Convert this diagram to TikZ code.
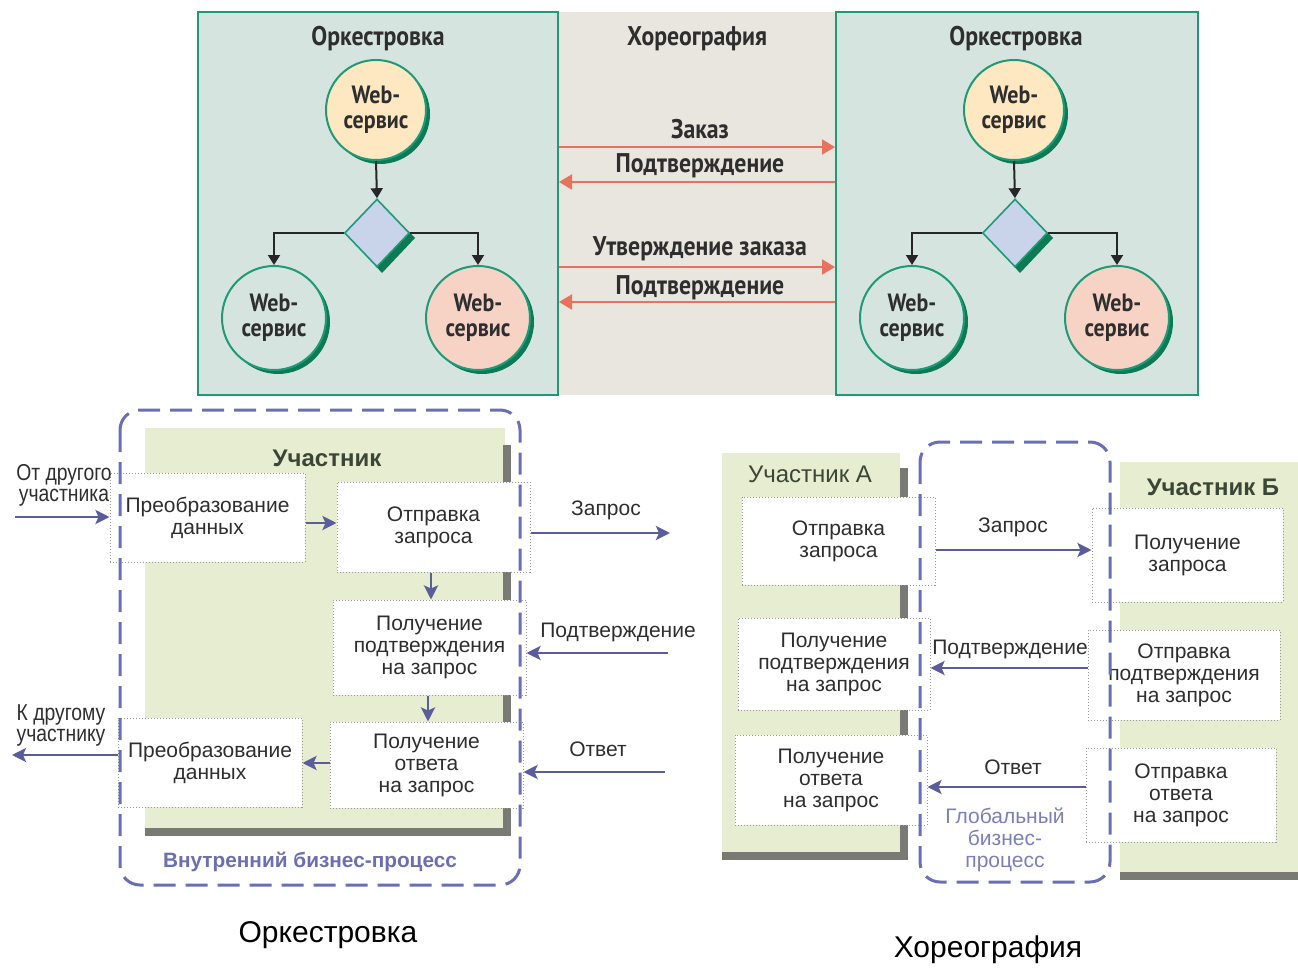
\documentclass[tikz,border=0pt]{standalone}
\usepackage{fontspec}
\setmainfont{Liberation Sans}
\newfontfamily\topfont[FakeStretch=0.88]{PT Sans}
\newfontfamily\narrowfont[FakeStretch=0.84]{Liberation Sans}
\usetikzlibrary{shapes.geometric,arrows.meta,calc}
\definecolor{panelc}{HTML}{D6E4DF}
\definecolor{midc}{HTML}{E9E5DF}
\definecolor{tealc}{HTML}{1E9A76}
\definecolor{darkteal}{HTML}{0B7A55}
\definecolor{yelc}{HTML}{FDE8C2}
\definecolor{pinkc}{HTML}{F6D3C5}
\definecolor{diac}{HTML}{C9D3EA}
\definecolor{redc}{HTML}{E8725E}
\definecolor{greenp}{HTML}{E6EDD0}
\definecolor{shadc}{HTML}{7A7A74}
\definecolor{dashc}{HTML}{6B6EB3}
\definecolor{arrc}{HTML}{5A5C9C}
\definecolor{txtc}{HTML}{2E2E2E}
\definecolor{partc}{HTML}{3B4636}
\definecolor{globc}{HTML}{7B7EBB}
\begin{document}
\begin{tikzpicture}[x=0.5pt,y=-0.5pt,
  panel/.style={draw=tealc, line width=1pt, fill=panelc, minimum height=191.5pt, inner sep=0},
  ttl/.style={font=\topfont\bfseries\fontsize{13.5}{14}\selectfont, text=txtc, inner sep=0},
  ws/.style={circle, draw=tealc, line width=1pt, inner sep=0, align=center, text=txtc,
     font=\topfont\bfseries\fontsize{12.5}{12.5}\selectfont},
  dia/.style={diamond, draw=tealc, line width=0.8pt, fill=diac, minimum width=32.5pt, minimum height=34pt, inner sep=0},
  tarrow/.style={-{Triangle[length=5pt,width=6pt]}, line width=1pt, draw=black!85},
  rarrow/.style={-{Triangle[length=6.5pt,width=7.5pt]}, line width=1pt, draw=redc},
  barrow/.style={-{Stealth[length=7pt,width=7pt,inset=1.5pt]}, line width=1.4pt, draw=arrc},
  box/.style={draw=black!40, line width=0.5pt, densely dotted, fill=white, inner sep=0, align=center,
     text=txtc, font=\fontsize{10.5}{11}\selectfont},
  dashbox/.style={draw=dashc, line width=1.5pt, dash pattern=on 11pt off 5pt, rounded corners=10pt},
  lbl/.style={text=txtc, font=\fontsize{10.5}{11}\selectfont, inner sep=0, align=center},
  side/.style={text=txtc, font=\narrowfont\fontsize{11.5}{10.5}\selectfont, inner sep=0, align=center}
]
\useasboundingbox (0,0) rectangle (1298,969);

% ---------------- top part ----------------
\fill[midc] (558,12) rectangle (836,395);
\node[panel, minimum width=180pt] (Lp) at (378,203.5) {};
\node[panel, minimum width=181pt] (Rp) at (1017,203.5) {};

\node[ttl] (t1) at (378,39) {Оркестровка};
\node[ttl] (t2) at (697,39) {Хореография};
\node[ttl] (t3) at (1016,39) {Оркестровка};

% left cluster
\fill[darkteal] (380,114) circle (25pt);
\node[ws, fill=yelc, minimum size=50pt] (c1) at (376,110) {Web-\\сервис};
\fill[darkteal] (382,205) -- (415,238) -- (382,273) -- (350,238) -- cycle;
\node[dia] (d1) at (377,233) {};
\fill[darkteal] (278,322) circle (26pt);
\node[ws, fill=panelc, minimum size=52pt] (c2) at (274,318) {Web-\\сервис};
\fill[darkteal] (482,322) circle (26pt);
\node[ws, fill=pinkc, minimum size=52pt] (c3) at (478,318) {Web-\\сервис};
\draw[tarrow] (c1.south) -- (d1.north);
\draw[tarrow] (d1.west) -| (c2.north);
\draw[tarrow] (d1.east) -| (c3.north);

% right cluster
\fill[darkteal] (1018,114) circle (25pt);
\node[ws, fill=yelc, minimum size=50pt] (c4) at (1014,110) {Web-\\сервис};
\fill[darkteal] (1020,205) -- (1053,238) -- (1020,273) -- (988,238) -- cycle;
\node[dia] (d2) at (1015,233) {};
\fill[darkteal] (916,322) circle (26pt);
\node[ws, fill=panelc, minimum size=52pt] (c5) at (912,318) {Web-\\сервис};
\fill[darkteal] (1121,322) circle (26pt);
\node[ws, fill=pinkc, minimum size=52pt] (c6) at (1117,318) {Web-\\сервис};
\draw[tarrow] (c4.south) -- (d2.north);
\draw[tarrow] (d2.west) -| (c5.north);
\draw[tarrow] (d2.east) -| (c6.north);

% messages
\node[ttl] (m1) at (700,129) {Заказ};
\draw[rarrow] (Lp.east |- 0,147) -- (Rp.west |- 0,147);
\node[ttl] (m2) at (700,166) {Подтверждение};
\draw[rarrow] (Rp.west |- 0,182) -- (Lp.east |- 0,182);
\node[ttl] (m3) at (700,249) {Утверждение заказа};
\draw[rarrow] (Lp.east |- 0,267) -- (Rp.west |- 0,267);
\node[ttl] (m4) at (700,288) {Подтверждение};
\draw[rarrow] (Rp.west |- 0,302) -- (Lp.east |- 0,302);

% ---------------- bottom left: orchestration ----------------
\fill[greenp] (145,428) rectangle (505,828);
\fill[shadc] (503,445) rectangle (511,836);
\fill[shadc] (145,828) rectangle (511,836);
\node[text=partc, font=\bfseries\fontsize{12}{13}\selectfont, inner sep=0] (part) at (327,458) {Участник};

\node[box, minimum width=97.5pt, minimum height=44.5pt] (b1) at (207.5,517.5) {Преобразование\\данных};
\node[box, minimum width=96.5pt, minimum height=45pt] (b2) at (433.5,527) {Отправка\\запроса};
\node[box, minimum width=96.5pt, minimum height=47.5pt] (b3) at (429.5,647.5) {Получение\\подтверждения\\на запрос};
\node[box, minimum width=96.5pt, minimum height=43pt] (b4) at (426.5,765) {Получение\\ответа\\на запрос};
\node[box, minimum width=92pt, minimum height=44.5pt] (b5) at (210,762.5) {Преобразование\\данных};

\coordinate (inA) at (15,517);
\coordinate (outK) at (12,755);
\coordinate (zapE) at (670,533);
\coordinate (podS) at (668,653);
\coordinate (otvS) at (665,772);
\draw[barrow] (inA) -- (inA -| b1.west);
\draw[barrow] (b1.east |- 0,523) -- (b2.west |- 0,523);
\draw[barrow] (b2.south -| 431,0) -- (b3.north -| 431,0);
\draw[barrow] (b3.south -| 428,0) -- (b4.north -| 428,0);
\draw[barrow] (b4.west |- 0,763) -- (b5.east |- 0,763);
\draw[barrow] (b5.west |- outK) -- (outK);
\draw[barrow] (b2.east |- zapE) -- (zapE);
\draw[barrow] (podS) -- (podS -| b3.east);
\draw[barrow] (otvS) -- (otvS -| b4.east);

\node[side] (fromO) at (64,485) {От другого\\участника};
\node[side] (toO) at (61,725) {К другому\\участнику};
\node[lbl] (lz) at (606,510) {Запрос};
\node[lbl] (lp) at (618,632) {Подтверждение};
\node[lbl] (lo) at (598,749) {Ответ};

\draw[dashbox] (120,410) rectangle (520,885);
\node[text=dashc, font=\bfseries\fontsize{10.4}{11}\selectfont, inner sep=0] (inner) at (310,862) {Внутренний бизнес-процесс};
\node[text=black, font=\fontsize{15}{17}\selectfont, inner sep=0] (orc) at (328,935) {Оркестровка};

% ---------------- bottom right: choreography ----------------
\fill[greenp] (722,453) rectangle (900,852);
\fill[shadc] (900,468) rectangle (908,860);
\fill[shadc] (722,852) rectangle (908,860);
\fill[greenp] (1120,462) rectangle (1298,872);
\fill[shadc] (1120,872) rectangle (1298,880);
\node[text=partc, font=\fontsize{12}{13}\selectfont, inner sep=0] (pa) at (810,474) {Участник А};
\node[text=partc, font=\bfseries\fontsize{12}{13}\selectfont, inner sep=0] (pb) at (1213,487) {Участник Б};

\node[box, minimum width=96.5pt, minimum height=44pt] (A1) at (838.5,541) {Отправка\\запроса};
\node[box, minimum width=96pt, minimum height=46pt] (A2) at (834,664) {Получение\\подтверждения\\на запрос};
\node[box, minimum width=96pt, minimum height=45pt] (A3) at (831,780) {Получение\\ответа\\на запрос};
\node[box, minimum width=95.5pt, minimum height=47pt] (B1) at (1187.5,555) {Получение\\запроса};
\node[box, minimum width=96pt, minimum height=45pt] (B2) at (1184,675) {Отправка\\подтверждения\\на запрос};
\node[box, minimum width=95pt, minimum height=47pt] (B3) at (1181,795) {Отправка\\ответа\\на запрос};

\draw[barrow] (A1.east |- 0,550) -- (B1.west |- 0,550);
\draw[barrow] (B2.west |- 0,668) -- (A2.east |- 0,668);
\draw[barrow] (B3.west |- 0,787) -- (A3.east |- 0,787);
\node[lbl] (cz) at (1013,527) {Запрос};
\node[lbl] (cp) at (1010,649) {Подтверждение};
\node[lbl] (co) at (1013,767) {Ответ};

\draw[dashbox] (920,442) rectangle (1110,882);
\node[text=globc, font=\fontsize{10.5}{11}\selectfont, inner sep=0, align=center] (glob) at (1005,840) {Глобальный\\бизнес-\\процесс};
\node[text=black, font=\fontsize{15}{17}\selectfont, inner sep=0] (chor) at (988,950) {Хореография};
\end{tikzpicture}
\end{document}
